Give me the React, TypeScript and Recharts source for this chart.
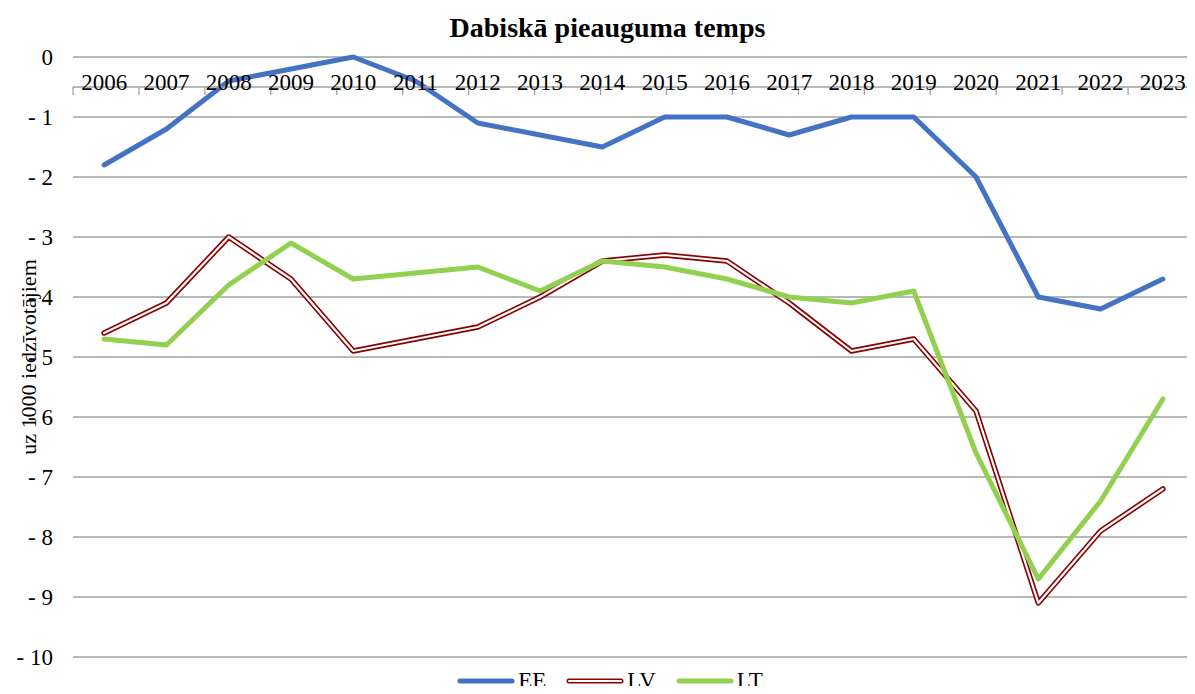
import {
  LineChart,
  Line,
  XAxis,
  YAxis,
  CartesianGrid,
  Legend,
} from "recharts";

const years = [
  "2006", "2007", "2008", "2009", "2010", "2011", "2012", "2013", "2014",
  "2015", "2016", "2017", "2018", "2019", "2020", "2021", "2022", "2023",
];

const ee = [-1.8, -1.2, -0.4, -0.2, 0, -0.4, -1.1, -1.3, -1.5, -1.0, -1.0, -1.3, -1.0, -1.0, -2.0, -4.0, -4.2, -3.7];
const lv = [-4.6, -4.1, -3.0, -3.7, -4.9, -4.7, -4.5, -4.0, -3.4, -3.3, -3.4, -4.1, -4.9, -4.7, -5.9, -9.1, -7.9, -7.2];
const lt = [-4.7, -4.8, -3.8, -3.1, -3.7, -3.6, -3.5, -3.9, -3.4, -3.5, -3.7, -4.0, -4.1, -3.9, -6.6, -8.7, -7.4, -5.7];

const yTicks = [0, -1, -2, -3, -4, -5, -6, -7, -8, -9, -10];
const sepTicks = years.map((_, i) => i).concat(years.length);

const data = years.map((year, i) => ({ year, EE: ee[i], LV: lv[i], LT: lt[i] }));

const FONT = "Liberation Serif";
const GRID = "#a0a0a0";

const legendItems = [
  { name: "EE", color: "#4472C4", double: false },
  { name: "LV", color: "#8B0000", double: true },
  { name: "LT", color: "#92D050", double: false },
];

const LegendContent = () => (
  <div style={{ display: "flex", justifyContent: "center", fontFamily: FONT, fontSize: 23, color: "#000", paddingLeft: 10 }}>
    {legendItems.map((it) => (
      <div key={it.name} style={{ display: "flex", alignItems: "center", marginRight: 20 }}>
        <svg width={58} height={10} style={{ marginRight: 3 }}>
          <line x1={3} y1={5} x2={55} y2={5} stroke={it.color} strokeWidth={5} strokeLinecap="round" />
          {it.double && <line x1={3} y1={5} x2={55} y2={5} stroke="#fff" strokeWidth={2} strokeLinecap="round" />}
        </svg>
        <span style={{ fontFamily: FONT }}>{it.name}</span>
      </div>
    ))}
  </div>
);

const YLabel = (props: any) => {
  const { viewBox } = props;
  const cx = 28;
  const cy = viewBox.y + viewBox.height / 2;
  return (
    <g>
      <rect x={cx - 12} y={cy - 118} width={22} height={236} fill="#fff" />
      <text
        x={cx}
        y={cy}
        transform={`rotate(-90, ${cx}, ${cy})`}
        textAnchor="middle"
        dominantBaseline="central"
        fontFamily={FONT}
        fontSize={22}
        fill="#000"
      >
        uz 1000 iedzīvotājiem
      </text>
    </g>
  );
};

const XTick = (props: any) => {
  const { x, y, payload } = props;
  return (
    <text x={x} y={y + 31} textAnchor="middle" fontFamily={FONT} fontSize={23} fill="#000">
      {payload.value}
    </text>
  );
};

const YTick = (props: any) => {
  const { x, y, payload } = props;
  const v = payload.value as number;
  return (
    <text x={x} y={y + 8} textAnchor="end" fontFamily={FONT} fontSize={23} fill="#000">
      {v === 0 ? "0" : "- " + Math.abs(v)}
    </text>
  );
};

export default function App() {
  return (
    <div style={{ margin: -8, position: "relative", width: 1195, height: 694, background: "#fff" }}>
      <div
        style={{
          position: "absolute",
          top: 12,
          left: 0,
          width: 1215,
          textAlign: "center",
          fontFamily: FONT,
          fontWeight: "bold",
          fontSize: 28,
          zIndex: 1,
        }}
      >
        Dabiskā pieauguma temps
      </div>
      <LineChart width={1195} height={694} data={data} margin={{ top: 57, right: 1, bottom: 37, left: 0 }}>
        <CartesianGrid vertical={false} stroke={GRID} strokeWidth={1.3} />
        <XAxis
          dataKey="year"
          scale="band"
          orientation="top"
          mirror
          axisLine={false}
          tickLine={false}
          tickSize={0}
          interval={0}
          tick={<XTick />}
        />
        <XAxis
          xAxisId="sep"
          type="number"
          domain={[0, years.length]}
          ticks={sepTicks}
          allowDataOverflow
          orientation="top"
          mirror
          tickSize={8}
          tickFormatter={() => ""}
          stroke={GRID}
          axisLine={{ stroke: GRID, strokeWidth: 1.3 }}
          tickLine={{ stroke: GRID, strokeWidth: 1.3 }}
        />
        <YAxis
          width={73}
          domain={[-10, 0]}
          ticks={yTicks}
          axisLine={false}
          tickLine={false}
          tickSize={0}
          tickMargin={20}
          interval={0}
          tick={<YTick />}
          label={<YLabel />}
        />
        <Line dataKey="EE" stroke="#4472C4" strokeWidth={5} dot={false} strokeLinecap="round" strokeLinejoin="round" isAnimationActive={false} />
        <Line dataKey="LV" stroke="#8B0000" strokeWidth={5.5} dot={false} strokeLinecap="round" strokeLinejoin="round" isAnimationActive={false} />
        <Line dataKey="LV" name="LV-inner" stroke="#fff" strokeWidth={2.2} dot={false} strokeLinecap="round" strokeLinejoin="round" legendType="none" isAnimationActive={false} />
        <Line dataKey="LT" stroke="#92D050" strokeWidth={5} dot={false} strokeLinecap="round" strokeLinejoin="round" isAnimationActive={false} />
        <Legend
          layout="horizontal"
          verticalAlign="middle"
          content={<LegendContent />}
          wrapperStyle={{ position: "absolute", top: 668, left: 0, width: 1230 }}
        />
      </LineChart>
    </div>
  );
}
